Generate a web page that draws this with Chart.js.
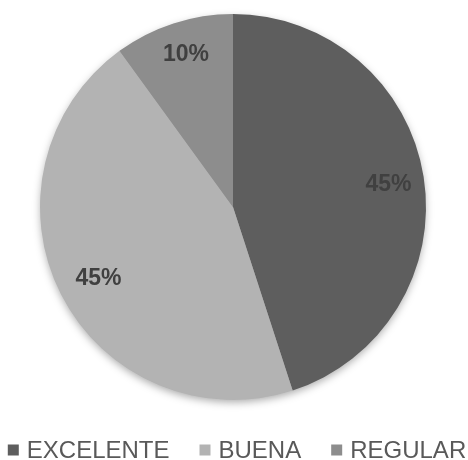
<!DOCTYPE html>
<html>
<head>
<meta charset="utf-8">
<script src="https://cdn.jsdelivr.net/npm/chart.js@4/dist/chart.umd.min.js"></script>
<style>
  html, body { margin: 0; padding: 0; background: #fff; }
  #wrap { width: 468px; height: 460px; }
</style>
</head>
<body>
<div id="wrap"><canvas id="pie"></canvas></div>
<script>
const categories = ['EXCELENTE', 'BUENA', 'REGULAR'];
const percentages = [45, 45, 10];
const sliceColors = ['#5e5e5e', '#b3b3b3', '#8d8d8d'];

const FONT = '"Liberation Sans", Arial, sans-serif';

// soft drop shadow behind the whole pie
const pieShadow = {
  id: 'pieShadow',
  beforeDatasetsDraw(chart) {
    const arc = chart.getDatasetMeta(0).data[0];
    if (!arc) return;
    const ctx = chart.ctx;
    ctx.save();
    ctx.shadowColor = 'rgba(0,0,0,0.35)';
    ctx.shadowBlur = 8;
    ctx.shadowOffsetY = 3;
    ctx.fillStyle = '#999';
    ctx.beginPath();
    ctx.arc(arc.x, arc.y, arc.outerRadius - 1, 0, Math.PI * 2);
    ctx.fill();
    ctx.restore();
  }
};

// percentage text inside each slice
const sliceLabels = {
  id: 'sliceLabels',
  afterDatasetsDraw(chart) {
    const ctx = chart.ctx;
    const meta = chart.getDatasetMeta(0);
    ctx.save();
    ctx.font = 'bold 23px ' + FONT;
    ctx.fillStyle = '#404040';
    ctx.textAlign = 'center';
    ctx.textBaseline = 'middle';
    meta.data.forEach((arc, i) => {
      const mid = (arc.startAngle + arc.endAngle) / 2;
      const r = arc.outerRadius * (percentages[i] < 20 ? 0.84 : 0.8);
      ctx.fillText(percentages[i] + '%', arc.x + Math.cos(mid) * r + 3, arc.y + Math.sin(mid) * r + 2);
    });
    ctx.restore();
  }
};

// single-row legend under the pie (built-in one wraps at this width)
const rowLegend = {
  id: 'rowLegend',
  afterDraw(chart) {
    const ctx = chart.ctx;
    const box = 11, gapText = 8, gapItem = 30, y = 450;
    ctx.save();
    ctx.font = '24px ' + FONT;
    ctx.textBaseline = 'middle';
    const widths = categories.map(c => box + gapText + ctx.measureText(c).width);
    const total = widths.reduce((a, b) => a + b, 0) + gapItem * (categories.length - 1);
    let x = (chart.width - total) / 2 + 3;
    categories.forEach((c, i) => {
      ctx.fillStyle = sliceColors[i];
      ctx.fillRect(x, y - box / 2, box, box);
      ctx.fillStyle = '#595959';
      ctx.fillText(c, x + box + gapText, y + 1);
      x += widths[i] + gapItem;
    });
    ctx.restore();
  }
};

new Chart(document.getElementById('pie'), {
  type: 'pie',
  data: {
    labels: categories,
    datasets: [{
      data: percentages,
      backgroundColor: sliceColors,
      borderWidth: 0
    }]
  },
  options: {
    responsive: true,
    maintainAspectRatio: false,
    animation: false,
    layout: { padding: { top: 14, bottom: 60, left: 0, right: 2 } },
    plugins: {
      tooltip: { enabled: false },
      legend: { display: false }
    }
  },
  plugins: [pieShadow, sliceLabels, rowLegend]
});
</script>
</body>
</html>
